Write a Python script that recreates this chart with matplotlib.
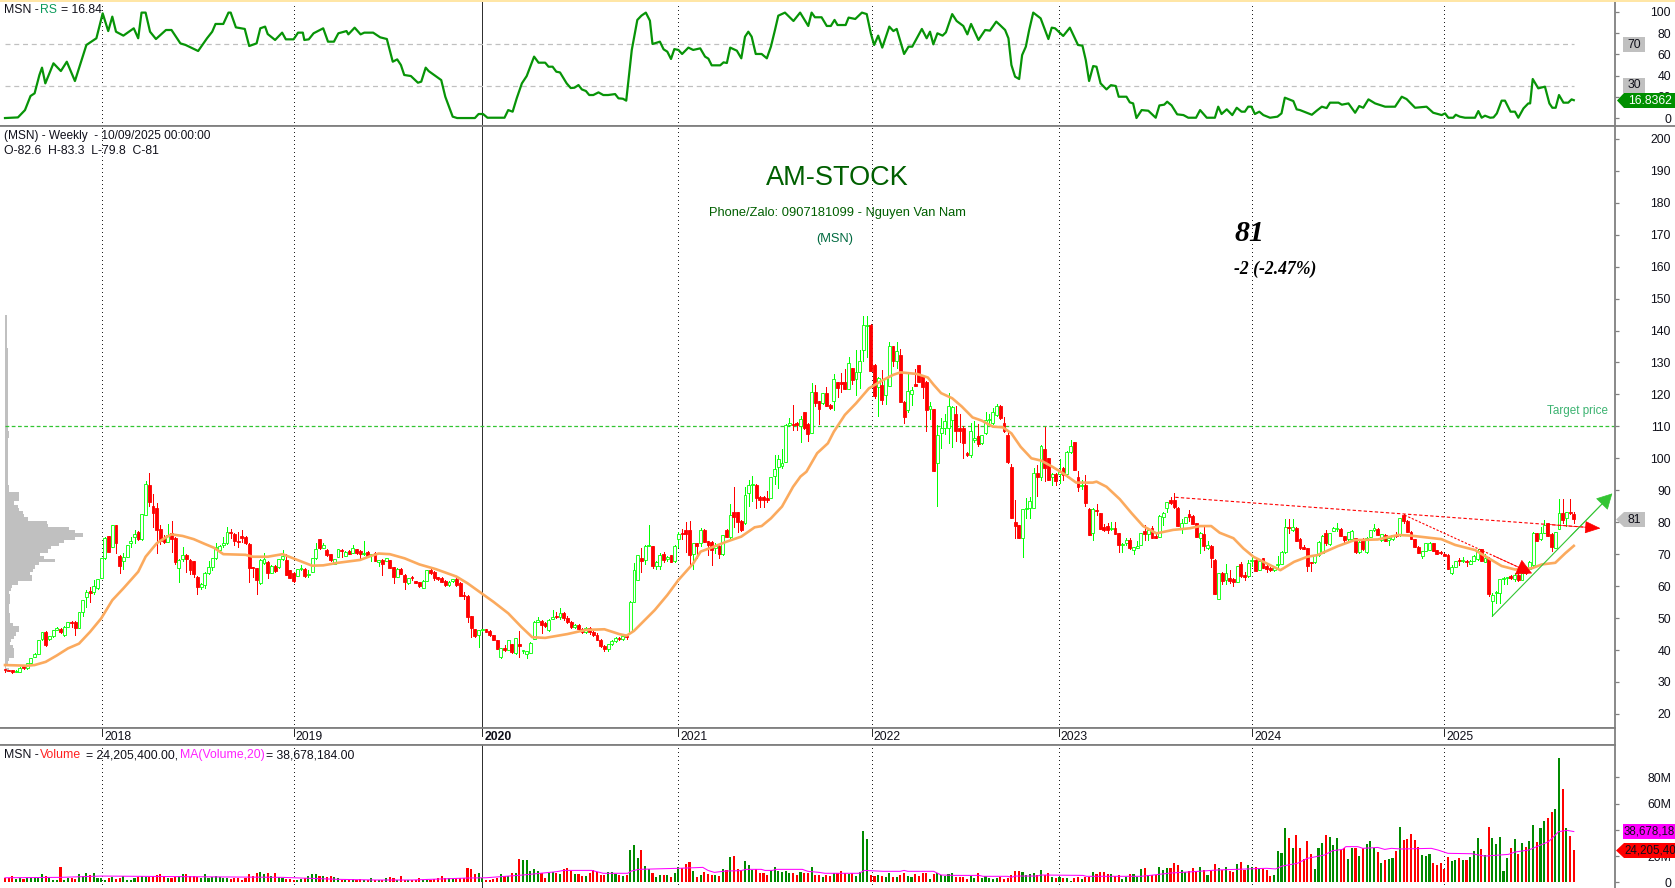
import matplotlib
matplotlib.use("Agg")
import matplotlib.pyplot as plt
from matplotlib.patches import Polygon, Rectangle

plt.rcParams['font.family'] = ['Liberation Sans', 'DejaVu Sans']

# ---------- weekly candles (open, high, low, close), bar by bar ----------
candles_a = [
(34.0,34.2,33.2,33.7),(33.6,33.8,33.3,33.5),(33.6,33.8,32.9,33.1),(33.2,33.6,33.0,33.5),(33.2,34.6,33.0,34.5),
(35.0,35.2,34.0,34.3),(34.3,36.0,34.2,36.0),(36.0,37.6,36.0,37.6),(37.7,39.0,37.7,38.9),(38.9,43.2,38.8,43.1),
(43.4,45.6,43.0,45.5),(45.6,45.9,41.4,41.6),(43.5,44.5,43.2,44.5),(44.4,46.4,44.0,46.3),(46.3,47.2,46.2,47.0),
(46.7,46.9,45.4,45.6),(44.6,47.4,44.5,47.3),(47.3,48.8,47.2,48.7),(48.8,49.0,47.3,48.5),(48.8,49.1,44.7,46.8),
(47.0,52.0,46.8,52.0),(51.8,55.8,50.8,55.6),(56.7,58.8,53.6,58.3),(58.3,59.8,55.0,58.0),(58.3,61.9,57.5,60.0),
(59.3,62.2,59.2,62.1),(62.5,68.8,62.4,68.7),(68.7,75.3,68.4,75.2),(75.6,75.8,70.6,70.8),(72.2,79.2,72.1,79.1),
(79.0,79.2,70.5,73.4),(69.4,69.6,64.0,66.4),(68.0,70.3,65.5,69.2),(69.2,72.9,69.0,72.8),(73.4,75.5,72.3,74.1),
(75.3,77.6,73.4,76.2),(77.0,77.4,74.5,74.6),(74.6,82.6,74.5,82.5),(82.3,92.9,82.2,92.0),(91.7,95.3,85.0,86.2),
(85.0,88.8,78.6,83.0),(84.5,85.9,70.5,77.6),(77.8,79.1,73.1,74.1),(75.1,76.0,73.6,73.9),(73.9,79.3,73.8,75.9),
(76.5,80.4,70.8,74.9),(75.1,75.3,66.9,67.4),(65.8,68.5,61.4,68.2),(68.4,72.1,68.0,69.7),(69.8,70.0,64.5,68.4),
]
candles_b = [
(68.2,68.4,63.7,65.2),(67.8,68.0,63.0,63.7),(63.0,63.2,57.5,59.8),(59.8,60.9,59.0,60.6),(60.2,64.3,59.3,64.2),
(64.0,67.9,63.7,65.9),(66.1,68.8,65.0,68.7),(68.7,73.4,68.6,72.1),(71.3,72.8,71.0,72.5),(73.0,75.5,72.3,73.6),
(73.4,78.6,73.2,76.9),(76.8,77.8,75.2,76.6),(76.3,76.5,72.9,74.2),(74.0,77.0,72.3,73.8),(75.4,77.6,73.9,75.2),
(75.5,75.7,73.3,73.4),(73.3,73.5,61.4,65.8),(65.8,66.0,63.0,65.6),(65.6,65.8,57.5,61.9),(60.9,68.4,60.8,68.3),
(67.1,70.3,67.0,68.4),(67.6,67.8,62.6,64.2),(64.2,66.5,64.1,66.4),(66.4,66.6,64.5,64.6),(65.9,68.5,65.8,68.4),
(68.4,71.3,68.3,69.4),(68.3,70.0,63.4,63.5),(65.0,65.2,62.4,62.7),(64.2,64.4,61.4,61.6),(63.3,65.5,63.2,65.3),
(65.4,66.6,65.2,65.6),(65.5,65.7,62.9,63.2),(63.4,65.0,63.0,63.5),(64.4,68.9,64.3,68.7),(68.7,73.4,68.6,71.6),
(74.6,74.8,71.6,71.8),(72.0,73.6,71.8,72.9),(71.3,71.5,69.5,69.7),(70.0,70.2,68.0,68.2),(66.9,68.5,66.8,68.4),
(69.2,71.6,69.0,71.5),(71.4,71.6,69.2,71.0),(69.4,71.0,69.3,70.8),(71.0,71.2,70.0,70.2),(70.4,72.9,70.3,71.8),
(71.5,71.7,70.2,70.4),(71.0,71.2,68.1,70.0),(70.0,74.1,69.8,70.5),(70.7,70.9,69.3,69.4),(69.8,70.2,68.0,70.0),
]
candles_c = [
(70.5,70.7,67.9,68.0),(67.5,68.3,66.4,68.1),(68.2,68.4,63.5,67.0),(67.9,68.9,67.8,68.8),(68.1,68.3,65.8,65.8),
(65.9,66.1,61.1,63.0),(63.0,65.6,62.9,65.5),(65.4,65.6,63.8,63.9),(63.5,63.7,59.1,61.3),(61.1,62.6,60.8,62.4),
(62.8,63.3,61.9,62.6),(61.5,61.7,60.9,61.0),(61.2,61.4,59.8,59.9),(59.5,61.8,59.4,61.7),(61.7,65.2,61.6,65.0),
(65.1,65.8,63.8,64.0),(64.5,64.7,62.0,62.4),(62.8,63.0,62.0,62.2),(62.5,62.8,61.2,61.4),(61.6,61.8,59.9,60.2),
(60.3,61.5,60.0,61.2),(61.7,62.2,61.4,62.1),(62.2,62.4,60.0,60.2),(61.0,61.2,56.9,57.0),(57.1,58.2,55.9,56.8),
(57.0,57.2,48.9,50.4),(50.6,50.8,44.2,46.9),(46.5,46.7,44.2,44.4),(44.7,46.4,41.0,46.3),(46.3,46.6,46.0,46.5),
(46.5,46.7,45.6,45.8),(46.1,46.3,44.4,44.6),(44.6,44.8,43.0,43.1),(43.0,43.2,40.2,40.3),(37.7,40.6,37.6,40.5),
(40.7,41.5,39.8,40.0),(40.0,43.1,39.9,43.0),(41.8,42.0,39.2,39.4),(39.0,43.9,38.9,43.8),(41.6,45.9,37.9,41.4),
(39.6,40.0,39.0,39.9),(38.8,39.8,37.6,39.7),(39.2,42.4,39.1,42.3),(43.5,49.0,43.3,48.7),(48.9,50.2,48.7,49.2),
(49.1,49.3,45.2,47.8),(48.6,48.8,47.2,47.4),(46.3,49.7,46.0,49.5),(49.7,52.5,49.6,50.2),(50.4,52.0,50.0,50.2),
]
candles_d = [
(50.2,53.0,49.8,51.5),(51.6,52.0,49.5,50.0),(50.0,50.5,48.5,48.8),(48.8,49.0,47.0,47.2),(47.2,48.0,47.0,47.8),
(47.8,48.0,46.2,46.5),(46.5,47.0,45.3,45.5),(45.5,47.2,45.3,47.0),(47.0,47.2,45.0,45.5),(45.5,46.0,44.5,44.8),
(44.8,45.3,43.0,43.2),(43.2,43.5,41.0,41.3),(41.3,41.6,39.8,40.2),(40.2,42.0,39.8,41.8),(41.8,43.0,41.5,42.8),
(42.8,44.0,42.5,43.8),(43.8,44.2,43.0,43.3),(43.3,44.6,43.1,44.4),(44.4,44.8,43.6,44.0),(45.5,55.3,45.3,55.1),
(55.1,67.1,55.0,65.0),(62.0,69.7,61.9,69.6),(68.8,71.8,64.5,68.0),(68.2,73.0,67.0,72.6),(72.6,79.1,72.5,72.9),
(72.5,72.7,65.8,66.3),(66.3,68.0,65.5,67.6),(66.3,70.5,65.5,69.7),(70.0,70.8,67.6,68.3),(68.6,69.3,68.0,69.0),
(69.6,69.8,67.4,67.5),(68.0,72.9,67.5,72.6),(74.6,77.0,72.3,76.2),(76.4,78.0,74.9,76.2),(77.6,80.2,70.8,76.3),
(77.7,80.3,66.0,69.7),(70.0,73.5,65.5,73.4),(73.4,73.6,68.7,72.6),(73.6,78.2,72.6,77.7),(77.7,77.9,73.8,73.8),
(74.0,74.2,69.7,72.9),(73.9,74.1,66.6,71.3),(72.0,73.6,70.5,72.6),(72.6,72.8,68.9,70.0),(70.0,76.0,69.8,75.9),
(77.6,77.8,75.4,75.5),(75.5,85.6,75.0,82.2),(83.1,91.1,78.6,81.7),(83.1,83.3,77.0,80.2),(80.5,80.8,77.4,77.6),
]
candles_e = [
(79.8,90.9,79.4,88.5),(89.3,93.2,85.2,91.5),(91.5,94.5,86.7,92.1),(91.8,92.0,84.3,87.7),(87.9,88.1,84.7,87.0),
(88.0,88.2,84.7,87.0),(87.3,89.8,86.4,87.1),(87.7,94.3,87.5,94.2),(94.4,101.0,92.0,96.5),(97.2,101.0,90.8,99.7),
(97.6,102.8,97.0,98.4),(99.0,110.6,98.8,110.5),(110.5,112.5,110.0,111.2),(110.8,116.7,108.9,110.5),(111.2,111.4,108.9,110.4),
(110.0,113.2,105.2,112.2),(114.4,114.6,109.2,109.4),(110.7,110.9,105.5,107.5),(108.0,123.5,107.8,120.7),(120.7,123.0,116.4,117.2),
(117.8,118.0,110.7,115.3),(117.2,120.5,117.0,120.4),(120.4,122.2,116.5,116.5),(116.7,116.9,115.5,115.6),(118.0,126.5,115.0,124.7),
(123.8,124.0,119.3,122.1),(123.8,126.6,120.8,123.2),(123.8,127.8,121.7,121.8),(121.8,131.8,121.6,129.9),(128.2,128.4,123.2,124.5),
(124.7,133.9,119.8,126.9),(127.1,133.9,122.0,130.4),(134.0,144.5,130.6,141.6),(141.5,144.5,131.8,141.7),(141.7,141.9,127.3,127.3),
(129.2,129.4,119.0,119.5),(122.4,125.5,113.2,125.0),(122.9,127.6,117.0,118.3),(119.8,125.5,117.0,125.1),(122.7,136.4,122.5,135.1),
(135.1,135.3,129.0,130.6),(130.6,136.5,128.4,133.6),(132.3,134.1,117.6,117.7),(117.7,117.9,111.2,113.0),(115.0,126.8,114.5,121.2),
(120.0,122.4,116.7,121.3),(123.2,127.8,122.7,122.7),(129.1,129.3,123.9,124.0),(125.7,125.9,119.0,122.4),(123.9,124.1,108.7,115.1),
]
candles_f = [
(115.3,117.7,112.2,116.4),(115.3,115.5,96.0,96.0),(98.4,110.5,85.1,107.2),(107.9,112.5,103.3,109.4),(109.4,114.0,107.5,111.8),
(109.4,120.3,104.7,116.4),(112.0,116.5,103.6,116.2),(114.0,116.4,105.5,108.7),(109.4,113.8,105.2,108.5),(109.6,110.0,100.2,104.9),
(101.6,102.0,100.8,101.0),(101.0,111.0,100.5,108.5),(105.6,111.7,105.0,106.3),(107.0,110.7,104.0,104.5),(104.7,107.4,104.5,107.2),
(107.8,114.6,107.5,112.0),(112.0,113.9,111.0,112.1),(111.0,115.6,110.8,114.5),(113.5,116.9,113.3,116.4),(116.4,116.6,112.4,112.6),
(111.0,113.0,108.2,108.5),(107.3,109.0,98.5,98.7),(97.4,98.2,81.3,81.3),(80.0,87.0,75.0,78.8),(79.0,79.2,75.0,75.0),
(75.0,84.2,69.2,84.0),(84.0,87.7,81.2,84.4),(84.3,88.0,81.2,86.7),(84.5,97.1,84.3,95.3),(95.3,97.9,88.2,94.0),
(94.0,104.3,93.2,104.0),(102.9,109.8,93.0,97.1),(100.0,100.2,93.2,93.2),(94.3,95.3,91.6,95.1),(95.1,95.3,91.5,93.0),
(95.0,99.8,92.2,95.8),(97.0,97.2,93.2,94.8),(95.0,102.3,94.0,102.0),(102.0,105.7,101.8,103.8),(105.0,105.2,96.3,96.3),
(94.3,96.0,89.8,91.1),(91.2,93.2,90.5,91.5),(91.6,94.8,85.2,85.9),(84.1,84.3,76.0,76.0),(76.5,84.5,74.4,84.1),
(83.8,85.6,82.2,83.6),(82.8,83.0,78.0,78.0),(78.6,79.3,77.2,77.6),(78.8,79.6,76.5,77.6),(77.8,80.2,77.5,78.0),
]
candles_g = [
(78.3,80.0,76.2,76.4),(76.5,76.7,70.8,72.9),(72.9,73.6,70.8,73.2),(73.4,75.0,73.0,74.4),(74.4,75.0,71.6,72.0),
(71.3,72.3,70.0,72.1),(71.8,74.0,71.8,72.5),(73.0,76.6,72.8,76.5),(77.2,79.1,74.4,76.2),(76.3,77.6,74.4,77.6),
(78.2,78.8,75.2,75.2),(75.4,77.0,75.1,75.2),(75.5,82.2,75.4,81.9),(81.7,83.2,79.1,83.0),(84.6,86.3,83.3,86.2),
(87.1,87.8,85.8,85.9),(87.0,89.0,84.6,84.7),(84.6,84.8,78.9,78.9),(78.2,80.9,76.5,79.6),(79.7,81.6,79.6,81.5),
(82.5,83.8,80.5,81.5),(82.1,82.3,79.3,79.4),(79.6,79.8,75.5,75.5),(75.0,76.9,70.5,76.5),(76.3,78.6,71.3,72.7),
(72.0,74.0,71.6,72.9),(72.6,72.8,66.1,68.9),(68.2,68.4,57.5,57.5),(56.1,64.0,56.0,64.0),(64.2,64.4,60.6,61.7),
(61.9,66.9,60.6,64.0),(62.7,65.2,60.9,61.7),(62.2,62.4,60.0,61.4),(61.4,66.4,61.2,66.3),(66.9,67.7,63.0,63.2),
(63.5,64.5,61.9,63.0),(63.2,68.2,63.0,67.1),(67.8,69.2,66.4,68.0),(68.2,68.4,64.8,64.8),(65.2,67.9,65.0,67.9),
(68.7,68.9,65.8,65.8),(66.3,66.5,64.5,65.3),(65.7,66.0,64.8,64.9),(64.9,66.2,64.8,66.1),(66.6,69.4,65.8,66.9),
(67.0,71.0,66.8,70.7),(70.8,81.0,70.4,78.4),(78.4,81.0,76.5,78.2),(77.6,81.0,77.2,78.4),(78.2,78.4,74.2,74.2),
]
candles_h = [
(74.6,75.2,71.6,71.8),(72.1,73.0,71.5,71.7),(71.8,72.0,64.7,66.3),(67.5,67.7,64.8,67.1),(67.6,69.8,67.3,69.7),
(69.8,74.0,69.5,73.8),(70.5,76.0,70.3,75.7),(76.7,77.5,73.0,73.4),(73.1,76.6,72.8,76.5),(77.4,78.6,77.2,78.1),
(77.8,79.8,77.4,78.0),(78.0,78.2,75.6,75.8),(75.6,75.8,73.8,74.4),(74.6,77.0,74.4,77.0),(74.8,77.5,74.6,77.3),
(75.0,75.2,70.5,70.8),(70.8,74.0,70.5,73.9),(74.9,75.1,71.4,71.5),(70.8,75.5,70.5,75.2),(75.5,77.6,75.3,77.5),
(77.6,79.4,77.4,78.1),(78.0,78.2,76.0,76.1),(74.4,76.3,74.2,76.2),(76.0,76.4,74.0,74.1),(74.4,75.2,72.8,75.0),
(74.7,76.0,74.5,75.9),(76.0,77.0,75.4,75.8),(76.0,81.2,75.8,81.2),(82.2,82.5,79.8,80.5),(80.4,80.6,77.0,77.0),
(77.0,77.2,74.6,74.6),(74.7,74.9,72.3,72.4),(72.3,72.5,70.4,70.5),(69.4,71.0,68.9,71.0),(71.0,73.4,70.9,73.4),
(71.4,73.8,71.2,73.6),(73.4,73.6,71.0,71.1),(71.2,71.4,70.0,70.0),(70.8,71.0,70.2,70.4),(70.2,70.4,69.4,69.5),
(69.7,69.9,65.3,65.3),(64.0,66.6,63.8,66.1),(66.0,68.0,65.9,68.0),(67.9,68.7,66.6,67.8),(67.8,69.0,67.5,68.0),
(68.0,68.2,66.3,67.6),(67.0,68.3,66.8,68.0),(68.0,69.7,67.9,69.3),(68.4,71.5,68.2,71.1),(71.5,71.7,67.8,68.0),
]
candles_i = [
(67.7,70.0,67.5,68.7),(68.7,69.0,57.0,57.4),(55.2,58.0,50.5,57.2),(57.9,58.6,54.6,58.0),(58.0,62.3,54.6,62.1),
(62.3,62.8,60.8,62.5),(62.4,62.8,60.8,62.6),(63.1,63.5,62.2,62.4),(62.1,64.0,61.7,63.5),(63.5,64.2,61.6,61.9),
(62.0,64.5,61.9,64.0),(64.2,66.0,63.8,64.0),(65.5,67.8,65.4,67.6),(66.6,76.8,66.4,76.7),(76.5,76.7,74.0,74.1),
(74.7,78.4,74.4,76.5),(76.7,80.6,76.5,79.1),(79.6,79.8,75.7,75.7),(76.3,76.5,71.0,72.1),(72.0,77.0,71.8,76.8),
(78.0,87.2,77.8,83.0),(83.0,87.2,79.6,80.7),(81.2,83.2,78.8,83.1),(83.3,87.2,82.6,83.0),(82.6,83.3,79.8,81.0),
]

# ---------- moving average on price: (bar, value) vertices ----------
ma_a = [(0,35.3),(6,35.1),(8,35.3),(11,36.3),(14,38.3),(17,40.5),(20,42),(23,45.7),(26,49.9),(29,55.6),(32,59.3),(36,64.5),
        (38,69.2),(41,73.4),(43,74.9),(45,76.2),(48,75.7),(51,74.7),(54,73.2),(56.5,72),(59,70),(65,69.8),(67,69.2),(71,69.2),
        (75,70),(79,68.2),(83,66.4),(86,66.5),(90,67.3),(96,68.2),(99,69.5),(101,70.2),(104,70),(108,68.7),(112,66.8),(116.5,65.3),
        (122,63),(125,60.9),(128.5,58),(132,55.1),(136,51.5),(139.5,47.3),(142.5,44),(146,43.8),(149,44.4)]
ma_b = [(152,45),(157,46.3),(162,46.5),(166,45),(168,44.5),(170,46),(175.6,52.5),(179,57.2),(182,61.9),(186,67.1),(188,70.8),
        (191,72.1),(195,73.9),(199,75.5),(202.6,78.4),(204.5,78.8),(207,81.2),(210,84.9),(213,91.1),(215,94.3),(216.6,95.8),
        (219.5,101.6),(222.4,104.7),(224,108.3),(227,113.6),(230,117.2),(233.5,121.9),(237,124.3),(240,126.1),(242,126.9),
        (246.5,126.4),(249.4,125.3),(251,123),(253,120.4),(256,118.8),(258.6,116.2),(261.5,112.8),(264,111.8),(267,109.9),
        (269.7,109.7),(272,107.8),(274.5,103.6),(277.4,100),(280,99.3),(283,97.4),(286,95.3),(289.5,92.4),(294,92.4),(295,92.7),
        (297.7,91.1)]
ma_c = [(301.3,87.2),(304.5,82.8),(307.6,78.8),(311.2,76.5),(315.7,77.6),(320.2,78.1),(323,78.8),(326,78.8),(328.3,76.7),(332,75),
        (334.7,71.8),(337.4,69.2),(341,67.1),(344.7,65),(348.4,67.6),(352,69.2),(354.7,69.7),(360.2,72.5),(364.7,74.4),(371,74.6),
        (376.5,76),(380,75.8),(384.6,75.2),(388.2,74.7),(391.9,72.9),(397.3,71.3),(401,68.7),(404.5,66.3),(408.1,65.2),(412.7,65.6),
        (415.4,66.8),(419,67.3),(421.7,70.3),(424,72.6)]

# ---------- RS line: (bar, value) vertices ----------
rs_a = [(0,0),(3.5,0.6),(5.4,7.5),(6.9,20.8),(8,23.3),(9.3,40.6),(10,47.5),(10.9,32.7),(13.1,51.6),(15.1,44.3),(16.7,53.1),(18.9,34.9),
        (20.7,54.7),(22,68.9),(24.7,75.2),(26.4,98.7),(27.9,82),(29,95.6),(30,81.4),(32,77.7),(34.8,84.6),(36,75.2),(36.9,99.4),(38,99.4),
        (39.2,81.4),(40.8,74.5),(43.5,83),(45,83),(47.4,70.4),(48.8,68.9),(52.2,63.2),(54.6,75.2),(56,81.4),(56.9,88.7),(59,88.7),(60.4,99.4),
        (61,99.4),(62.4,85.5),(64.8,84),(66,67.9),(68,70.4),(69,84.6),(70.3,86.2),(71,79.2),(73,73.6),(74.9,80.5),(75.9,74.2),(78,74.2),
        (79.2,80.5),(80.5,80.5),(80.9,73.6),(82.1,74.2),(83.4,79.9),(86,84.6),(87.3,72),(88.9,72),(90.1,79.9),(92.3,82),(92.8,78.9),(94.5,85.2),
        (96.1,78.9),(97.1,80.5),(99.5,80.5),(101.4,76.1),(103.2,74.5),(104.8,53.1),(106,55.3),(107,50),(107.9,40.6),(109.7,39.6),(111.6,33.3),
        (112.5,34.3),(113.7,47.5),(114.5,44.3),(117.9,35.8),(119,20.1),(121,1.3),(122.2,0),(127,0),(128,3.8),(129.2,3.8),(130.4,0.3),(135,0.3)]
rs_b = [(136,7.5),(137.2,6),(138.3,18.6),(139.7,32.7),(141,39.6),(143,57.9),(144.2,52.2),(146,52.2),(146.9,48.4),(148,48.4),(149,43.7),(150,43),
        (151.8,32.7),(152.9,28.3),(153.9,28.6),(155,31.1),(155.9,27),(157,25.5),(157.9,21.7),(159,21.7),(160.4,24.2),(161.7,21.7),(163,21.7),
        (164.9,22.6),(165.8,18.6),(167,18.2),(167.9,16.4),(168.5,35.8),(169.4,64.2),(170.3,81.4),(170.9,92.5),(172,96.5),(173.2,99.4),(174.3,91.8),
        (175,69.8),(177,72),(178,64.8),(179,62.6),(180,55.7),(180.9,65),(182,64.2),(183,60.4),(184.7,66.4),(186,64.2),(187.9,65.7),(189.2,57.9),
        (190.1,56),(191,49.7),(193.3,49.7),(194.2,52.5),(195.1,51.9),(196,66.4),(197.8,63.5),(199,56.3),(200,76.7),(200.9,81.4),(201.8,76.7),
        (202.9,60.4),(204.5,60.4),(205.9,56.3),(207,67.3),(208.1,83),(209,96.5),(210.8,99.4),(213.1,91.5),(214.9,99.4),(217.1,86.8),(218,99.4),
        (218.9,95),(220.7,95),(222.1,86.8),(223.2,86.8),(224.2,92.5),(225,87.7),(227.2,87.7),(228,94.7),(229.8,93.4),(231.6,99.4),(232.9,98),
        (234,79.9),(234.9,68.9),(236,77.7),(237.1,66.4),(239,86.2),(240.1,82),(241,84),(243,60.4),(244.2,67.3),(245.2,67.3),(247.8,84),(249.1,75.2),
        (250,81.4),(250.9,69.5),(252,79.9),(253.4,77.7),(254.3,80.8),(256,98),(257.2,91.5),(259,86.8),(260.1,78.9),(261.1,88.7),(263.1,73.6),
        (264.9,83),(266.2,82.4),(267.9,90.9),(268.9,87.7)]
rs_c = [(270.3,83),(271.2,75.2),(272,50),(273,39),(274.1,36.8),(274.9,59.4),(275.9,67.3),(276.8,83),(277.9,99.4),(279.9,94),(282,74.5),(282.9,85.2),
        (283.8,84.6),(286,77.4),(287.8,85.2),(290,68.9),(291.2,68.2),(292.1,54.7),(293,34.9),(294.1,49),(295,48.4),(296.1,32.7),(297.7,27),(298.9,31),
        (300.2,30.2),(301,20.1),(303.1,20.1),(304,14.8),(304.9,13.8),(305.8,0),(307.2,7.5),(309,6.9),(311,0.3),(312,11.9),(313.3,12.6),(314.1,15.4),
        (315.3,11.9),(316.8,3.5),(318.5,2.8),(319.8,0.3),(321.9,0.3),(323,7.5),(324.8,0.3),(327,0.3),(327.9,10.7),(328.8,3.8),(330.2,8.2),(331.7,2.8),
        (332.9,9.7),(334.2,6),(335.1,6),(336,10.7),(336.9,10.7),(337.8,3.8),(339,6),(340.1,2.8),(341.9,0.3),(343.9,1.3),(345,4.4),(345.9,19.2),(348.2,16),(349.1,8.2)]
rs_d = [(350,7.5),(353.2,3.1),(354.5,6.9),(355.9,10.7),(357.2,9.4),(358.1,14.5),(360.4,14.5),(361.3,12.6),(363.1,13.8),(364.9,5),(366,11.3),(367.1,9.7),
        (368.5,17.6),(370.3,13.8),(373,10.7),(375.7,10.7),(377.5,20.1),(378.8,17.9),(381.1,9.7),(384.2,10.7),(386,5),(388.3,2.8),(389.2,4.4),(390.1,0.3),
        (391.4,0.3),(392.1,3.1),(393.2,1.3),(394.6,0.3),(397.3,0.3),(398.2,6.6),(399.1,0.3),(400,2.2),(401.4,0.3),(402.3,0.6),(403.2,4.4),(404.5,16.4),
        (405.4,16.4),(406.9,6),(408.1,6),(409,0.3),(410.4,9.1),(411.7,13.8),(412.2,13.8),(412.9,36.8),(414.4,28),(416.2,29.6),(417.4,13.8),(418.2,9.7),
        (419.1,9.7),(420,21.7),(421.2,14.5),(422.5,14.5),(423.4,17.6),(424,16.84)]

# ---------- volume in millions, bar by bar ----------
vol_a = [3,3,4.5,2.5,3.5,2.5,3.5,3,3.5,4,6,4.5,3,2,2,12,2,3,3,2.5,6,5,7,5.5,7.5,3,
         3.5,2,3,4,2.5,3.5,4.5,1.5,2,3.5,4,5,4,4,5,5.5,6,4.5,3.5,3,4,5,6.5,6,5,5,4,3.5,6.5,3,4,5,4,3,3,2.5,3,3.5,2,3,6,5,7.5,8,6,7,5,7,4,3,2.5,2.5]
vol_b = [1.5,2,2.5,3,4.5,6.5,6.5,4.5,4.5,4,4.5,4,3,2,1.5,2,2.5,2,2.5,2,2,3,2,1.5,2,3,4,3,2,4.5,2,2,1.5,2,3,2,2,2,2.5,3,4.5,3.5,3,3,3,3,3,11,10,6.5,7.5,3,
         2,1.5,2.5,3.5,6,4.5,5,7.5,7.5,17.8,17,17,9,10,9,7.5,3,7,8,7.5]
vol_c = [6.3,10,10.9,9,6.3,6.3,4.8,4.8,7,9.4,7.6,5.6,5.6,7.9,7.9,6.3,5.6,4.8,5.6,24.6,28.4,18.5,24.6,12.4,10,7,4,5.6,5.6,5.6,4,7,11.7,10.9,14,15.5,8.6,4,5.6,7.9,
         6.3,5.6,5.6,4.8,10,9.4,19.3,20,10,9.4,16.2,13.2,9.4,10,7,7,5.6,9.4,11.7,8.6,7.9,8.6,7,7,5.6,7.9,7,7,11.7,5.6,5.6,4,5.6,4.8,7,7,8.6,7,6.3,7,
         4.8,7.9,39,33,5.6,4.8,5.6,4.8,4,7,4,4,5.6,7,4.8,4,6.3,4.8,7,7,2.5,6.3,7,5.6,4.8,6.3,7,4,4,4,2.5,4.8,3.3,7,3.3,4.8,3.3,2.5,3.3,4,
         2.5,3.3,5.6,8.6,8.6,7.9,5.6,6.3,7,5.6,9.4,5.6,7,4,3.3,4,3.3,3.3,1,3.3,4,2.5,4,4,7.9,6.3,7.9,7.9,6.3,6.3,4.8,5.6,2.5,4,6.3,6.3,4,10,10.9,5.6]
vol_d = [5.3,5.3,11.7,9.4,10.9,10.9,14.7,13.2,9.4,7.9,8.6,10.9,8.6,11.7,9.4,5.6,8.6,14,10.9,9.4,11.7,8.6,7.9,14,15.5,9.4,13.2,11.7,11.7,10.2,10.2,9.4,4.8,5.6,
         23.9,22.3,41.4,33.8,26.1,36,26.1,17.8,31.5,21.6,10.2,26.1,30,36,34.5,28.4,33.8,24.6,26.1,17.8,26.1,26.1,20,26.1,29.2,31.5,26.1,23.1,14.7,17,17.8,18.5,
         23.9,42.1,32.2,33,36.8,32.2,26.9,20.8,20,21.6,14.7,13.2,14.7,10.2,19.3,16.2,17,18.5,17,17,19.3,23.9,33.8,25.4,20.8,42.1,33.8,29.2,34.5,8.6,18.5,26.1,33,
         21.6,30,26.9,31.5,43.7,30.7,41.4,46.7,49,53.6,55.8,94.7,71,41.4,35.3,24.6]

# ---------- moving average on volume: (bar, millions) vertices ----------
vol_ma = [(0,3.5),(15,3.8),(26,4.8),(50,4.3),(75,3.8),(90,2.3),(100,1.8),(110,1.8),(125,3.3),(130,3.5),(140,5.6),(149,8.1),(151,9.1),(158.6,9.1),(160.7,7.6),
          (161.7,6.9),(168.3,6.9),(169.3,8.6),(171.3,9.9),(182,10.7),(188.6,11.4),(190,9.1),(191.7,7.6),(194.7,8.6),(198.8,8.9),(200.3,9.9),(204.4,9.9),(205.4,9.1),
          (207.4,9.1),(208.4,9.9),(215.5,9.9),(217,8.4),(220,7.6),(221.6,6.9),(230.8,6.9),(232.3,9.1),(237.4,8.4),(242,8.4),(243,9.1),(244,8.4),(251,8.4),(253,5.6),
          (256.7,5.3),(263.3,5.3),(264.3,4.6),(271,4.6),(272,3.8),(273,4.8),(279,4.8),(280,5.6),(291.3,5.3),(292.3,4.6),(307,4.6),(309.5,5.3),(315,7.1),(321,8.1),
          (327.6,9.4),(341,10.7),(343.4,10.2),(345.2,12.4),(349.3,14.5),(352,18.3),(356.6,20.8),(358.8,24.1),(361.5,25.1),(362.4,27.2),(365.6,27.2),(367,25.9),(371,26.6),
          (372.9,25.1),(374.7,25.9),(377.4,25.4),(385.5,25.9),(387.3,24.6),(390,22.1),(396.4,21.8),(400,20),(406.3,21.3),(408.1,23.1),(411.8,24.6),(417.2,31),(419.9,38.6),
          (422.2,39.6),(424,38.68)]

# ---------- price-volume profile on the left edge ----------
profile_prices = list(range(33, 146))
profile_amount = [8,10,4,8,10,25,25,25,22,15,18,25,30,38,38,22,15,15,15,12,10,12,15,15,15,12,18,20,35,75,75,70,78,85,95,140,110,98,120,130,150,165,195,218,195,180,
                  120,118,65,52,50,40,35,25,38,38,38,10,10,8,8,8,8,8,7,7,7,8,8,8,9,9,9,9,10,10,9,9,8,8,8,9,9,9,9,9,9,8,8,8,8,8,8,8,8,8,7,7,7,7,7,7,6,6,6,6,6,5,5,5,5,5,5]

# ---------- axis values, events, text ----------
year_bars = [26.2, 78, 129, 182, 234.2, 284.8, 337.1, 389]
year_labels = ['2018', '2019', '2020', '2021', '2022', '2023', '2024', '2025']
price_ticks = list(range(20, 201, 10))
rs_ticks = [0, 20, 40, 60, 80, 100]
vol_ticks = [0, 20, 40, 60, 80]
vol_tick_labels = ['0', '20M', '40M', '60M', '80M']
rs_levels = [70, 30]
target_price = 110
red_trend_1 = ((316.3, 87.8), (431.2, 78.1))
red_trend_2 = ((378.3, 82.2), (412.7, 64.0))
green_trend = ((402, 50.6), (434.4, 89.0))

candles = candles_a + candles_b + candles_c + candles_d + candles_e + candles_f + candles_g + candles_h + candles_i
volumes = vol_a + vol_b + vol_c + vol_d
ma_points = ma_a + ma_b + ma_c
rs_points = rs_a + rs_b + rs_c + rs_d

# ---------- layout in pixels ----------
W, H = 1675, 888
AX_R = 1615
BAR0, BAR_W = 5.0, 3.70
DOT = (0, (1, 3))
GRID = '#222222'
FRAME = '#808080'
TXT = '#10101a'
FS = 8.8


def add_ax(top, bottom):
    return fig.add_axes([0, 1 - bottom / H, AX_R / W, (bottom - top) / H])


fig = plt.figure(figsize=(W / 100, H / 100), dpi=100, facecolor='white')
ax_rs = add_ax(2, 126)
ax_p = add_ax(126, 728)
ax_d = add_ax(728, 745)
ax_v = add_ax(745, 888)
xlim = ((0 - BAR0) / BAR_W, (AX_R - BAR0) / BAR_W)

for ax in (ax_rs, ax_p, ax_d, ax_v):
    ax.set_xlim(*xlim)
    ax.set_xticks([])
    ax.spines['left'].set_visible(False)
    for s in ('top', 'bottom', 'right'):
        ax.spines[s].set_color(FRAME)
        ax.spines[s].set_linewidth(1.3)
    ax.yaxis.tick_right()

ax_rs.set_ylim(-7.5, 109.4)
ax_rs.spines['top'].set_visible(False)
ax_p.set_ylim(15.6, 204.0)
ax_d.set_ylim(0, 1)
ax_d.set_yticks([])
ax_v.set_ylim(-4.3, 104.6)
ax_v.spines['bottom'].set_visible(False)


def style_ticks(ax, ticks, labels):
    ax.set_yticks(ticks)
    ax.set_yticklabels(labels, ha='right', fontsize=FS, color=TXT)
    ax.tick_params(axis='y', length=3, width=0.9, color=FRAME, pad=37.3)


style_ticks(ax_rs, rs_ticks, [str(t) for t in rs_ticks])
style_ticks(ax_p, price_ticks, [str(t) for t in price_ticks])
style_ticks(ax_v, vol_ticks, vol_tick_labels)

# year grid
for ax in (ax_rs, ax_p, ax_v):
    for yb, yl in zip(year_bars, year_labels):
        if yl == '2020':
            ax.axvline(yb, color='#303030', lw=0.72, zorder=1, antialiased=False)
        else:
            ax.axvline(yb, color=GRID, lw=0.72, ls=DOT, zorder=1, antialiased=False)
for yb, yl in zip(year_bars, year_labels):
    ax_d.plot([yb, yb], [0.55, 1], color=GRID, lw=0.7)
    ax_d.text(yb + 0.55, 0.46, yl, ha='left', va='center', fontsize=FS, color=TXT,
              fontweight='bold' if yl == '2020' else 'normal')

# RS panel
for lv in rs_levels:
    ax_rs.plot([0, len(candles) - 1], [lv, lv], color='#c0c0c0', lw=0.9, ls=(0, (4, 3)), zorder=1)
ax_rs.plot([p[0] for p in rs_points], [p[1] for p in rs_points], color='#079407', lw=1.6, zorder=3)

# profile
ax_p.fill_betweenx(profile_prices, 0, [a / (2.8 * BAR_W) for a in profile_amount], step='mid',
                   color='#c0c0c0', lw=0, zorder=1)

# target line
ax_p.plot([0, xlim[1]], [target_price, target_price], color='#33c533', lw=0.9, ls=(0, (3, 2)), zorder=1.5)

# candles
for i, (o, h, l, c) in enumerate(candles):
    up = c >= o
    col = '#00ff00' if up else '#ff0000'
    ax_p.plot([i, i], [l, h], color=col, lw=0.72, zorder=2, solid_capstyle='butt', antialiased=False)
    lo, hi = min(o, c), max(o, c)
    ax_p.add_patch(Rectangle((i - 0.38, lo), 0.76, max(hi - lo, 0.35),
                             facecolor='white' if up else col, edgecolor=col, lw=0.6,
                             zorder=2.5, antialiased=True))

# MA
ax_p.plot([p[0] for p in ma_points], [p[1] for p in ma_points], color='#fbaa5e', lw=1.9, zorder=3)

# trend lines with heads
for line, col, ls, lw, hl, hw, frac in ((red_trend_1, '#ff0000', (0, (3, 2)), 0.8, 0.5, 0.2, 0.12),
                                        (red_trend_2, '#ff0000', (0, (2, 1.5)), 0.8, 0.5, 0.27, 0.3),
                                        (green_trend, '#33c533', '-', 0.8, 0.5, 0.27, 0.35)):
    (x0, y0), (x1, y1) = line
    ax_p.plot([x0, x1 - (x1 - x0) * 0.03], [y0, y1 - (y1 - y0) * 0.03], color=col, lw=lw, ls=ls, zorder=4)
    ax_p.annotate('', xy=(x1, y1), xytext=(x1 - (x1 - x0) * frac, y1 - (y1 - y0) * frac),
                  arrowprops=dict(arrowstyle='-|>,head_length=%g,head_width=%g' % (hl, hw),
                                  color=col, lw=0.5, mutation_scale=20,
                                  shrinkA=0, shrinkB=0), zorder=5)

# volume
for i, (v, cd) in enumerate(zip(volumes, candles)):
    ax_v.bar(i, v, width=0.58, color='#008a00' if cd[3] >= cd[0] else '#ff0000', lw=0, zorder=2)
ax_v.plot([p[0] for p in vol_ma], [p[1] for p in vol_ma], color='#ff00ff', lw=0.75, zorder=3)

# overlay in pixel coordinates for panel captions and value tags
ov = fig.add_axes([0, 0, 1, 1], facecolor='none')
ov.set_xlim(0, W)
ov.set_ylim(H, 0)
ov.axis('off')
ov.add_patch(Rectangle((0, 0), W, 2, color='#ffe6a6', lw=0))
ov.plot([AX_R, W], [126, 126], color=FRAME, lw=1.3)


def t(x, y, s, color=TXT, size=FS, ha='left', **kw):
    ov.text(x, y, s, color=color, fontsize=size, ha=ha, va='center', **kw)


t(4, 10, 'MSN -')
t(40, 10, 'RS', color='#0a9a5a')
t(61, 10, '= 16.84')
t(4, 135.5, '(MSN) - Weekly  - 10/09/2025 00:00:00', size=8.6)
t(4, 151, 'O-82.6  H-83.3  L-79.8  C-81')
t(4, 755, 'MSN -')
t(40, 755, 'Volume', color='#ff2020')
t(86, 755, '= 24,205,400.00,')
t(180, 755, 'MA(Volume,20)', color='#ff20ff')
t(266, 755, '= 38,678,184.00')

t(837, 178, 'AM-STOCK', color='#005f00', size=19.5, ha='center')
t(837.5, 213, 'Phone/Zalo: 0907181099 - Nguyen Van Nam', color='#005f00', size=9.3, ha='center')
t(835, 239, '(MSN)', color='#006a40', size=9.3, ha='center')
t(1234, 233, '81', color='black', size=21.5, family='Liberation Serif', fontweight='bold', fontstyle='italic')
t(1234, 269, '-2 (-2.47%)', color='black', size=12.7, family='Liberation Serif', fontweight='bold', fontstyle='italic')
t(1608, 411, 'Target price', color='#3cb371', size=8.4, ha='right')

for yy, s in ((44.5, '70'), (85.5, '30')):
    ov.add_patch(Rectangle((1623, yy - 7.5), 22, 15, color='#c0c0c0', lw=0, zorder=5))
    t(1634, yy, s, ha='center', zorder=6)

ov.add_patch(Polygon([(1617, 100.5), (1624, 93), (W, 93), (W, 108), (1624, 108)], color='#008f00', lw=0, zorder=5))
t(1628, 100.5, '16.8362', color='white', zorder=6)
ov.add_patch(Polygon([(1616, 519.5), (1624, 512), (1645, 512), (1645, 527), (1624, 527)], color='#c0c0c0', lw=0, zorder=5))
t(1627, 519.5, '81', zorder=6)
ov.add_patch(Rectangle((1623, 824), W - 1623, 15, color='#ff00ff', lw=0, zorder=5))
t(1624, 831.5, '38,678,18', zorder=6, size=8.3)
ov.add_patch(Polygon([(1616, 850.5), (1624, 843), (W, 843), (W, 858), (1624, 858)], color='#ff0000', lw=0, zorder=5))
t(1624, 850.5, '24,205,40', zorder=6, size=8.3)

fig.savefig('out.png', dpi=100, facecolor='white')
